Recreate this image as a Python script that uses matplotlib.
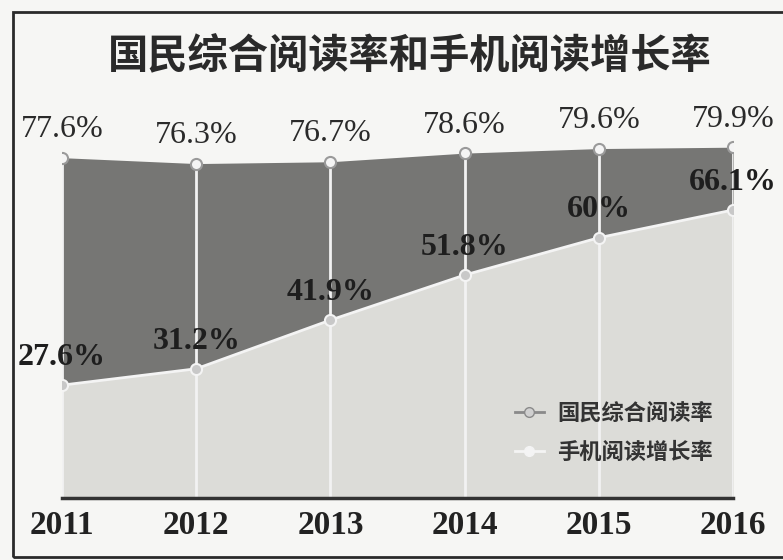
import numpy as np
import matplotlib
matplotlib.use("Agg")
from matplotlib import pyplot as plt
from matplotlib.patches import Rectangle

# data
years = [2011, 2012, 2013, 2014, 2015, 2016]
reading_rate = [77.6, 76.3, 76.7, 78.6, 79.6, 79.9]    # 国民综合阅读率
mobile_rate = [27.6, 31.2, 41.9, 51.8, 60.0, 66.1]     # 手机阅读增长率
reading_labels = ["77.6%", "76.3%", "76.7%", "78.6%", "79.6%", "79.9%"]
mobile_labels = ["27.6%", "31.2%", "41.9%", "51.8%", "60%", "66.1%"]

cjk = ["Noto Sans CJK SC", "DejaVu Sans"]
serif = ["Liberation Serif", "DejaVu Serif"]

fig = plt.figure(figsize=(7.83, 5.6), dpi=100)
fig.patch.set_facecolor("#f6f6f4")

# outer frame of the scanned picture (right side runs off the image)
fig.patches.append(Rectangle((13/783, 3/560), 790/783, 545/560, transform=fig.transFigure,
                             fill=False, edgecolor="#2a2a2a", linewidth=2))

ax = fig.add_axes([62/783, 62/560, 671/783, 462/560])
ax.set_facecolor("none")
ybot = 2.8

ax.fill_between(years, mobile_rate, reading_rate, color="#767674", linewidth=0, zorder=1)
ax.fill_between(years, 0, mobile_rate, color="#dcdcd8", linewidth=0, zorder=1)
ax.plot(years, mobile_rate, color="#f4f4f4", linewidth=2, zorder=2)

# white vertical guides
ax.vlines(years, 0, reading_rate, color="#f2f2f2", linewidth=2, zorder=2)

ax.plot(years, reading_rate, linestyle="none", marker="o", markersize=8,
        mfc="#f4f4f4", mec="#9a9a9a", mew=1.5, zorder=4)
ax.plot(years, mobile_rate, linestyle="none", marker="o", markersize=8,
        mfc="#c8c8c8", mec="#f4f4f4", mew=1.5, zorder=4)

for x, y, s in zip(years, reading_rate, reading_labels):
    ax.annotate(s, (x, y), xytext=(0, 20), textcoords="offset points", ha="center", va="center",
                fontsize=23, family=serif, color="#2a2a2a", zorder=5, annotation_clip=False)
for x, y, s in zip(years, mobile_rate, mobile_labels):
    ax.annotate(s, (x, y), xytext=(0, 20), textcoords="offset points", ha="center", va="center",
                fontsize=23, family=serif, fontweight="bold", color="#1e1e1e", zorder=5,
                annotation_clip=False)

ax.set_xlim(2011, 2016)
ax.set_ylim(ybot, ybot + 462 / 4.55)
ax.set_xticks(years)
ax.set_xticklabels([str(y) for y in years], fontsize=24, family=serif, fontweight="bold", color="#222222")
ax.tick_params(axis="x", length=0, pad=9)
ax.set_yticks([])
for side in ["top", "left", "right"]:
    ax.spines[side].set_visible(False)
ax.spines["bottom"].set_linewidth(2.5)
ax.spines["bottom"].set_color("#333333")

# legend
h1, = ax.plot([], [], color="#8a8a8a", marker="o", markersize=7, mfc="#d0d0d0", mec="#8a8a8a", linewidth=2)
h2, = ax.plot([], [], color="#f4f4f4", marker="o", markersize=7, mfc="#f4f4f4", mec="#f4f4f4", linewidth=2)
leg = ax.legend([h1, h2], ["国民综合阅读率", "手机阅读增长率"], loc="lower right",
                bbox_to_anchor=(1.0, 0.03), frameon=False, handlelength=1.3, handletextpad=0.6,
                labelspacing=0.75, prop={"family": cjk, "weight": "bold", "size": 16})
for t in leg.get_texts():
    t.set_color("#333333")

fig.text(410/783, 1 - 57/560, "国民综合阅读率和手机阅读增长率", ha="center", va="center",
         fontsize=29, family=cjk, fontweight="bold", color="#2a2a2a")

fig.savefig("out.png", dpi=100, facecolor=fig.get_facecolor())
